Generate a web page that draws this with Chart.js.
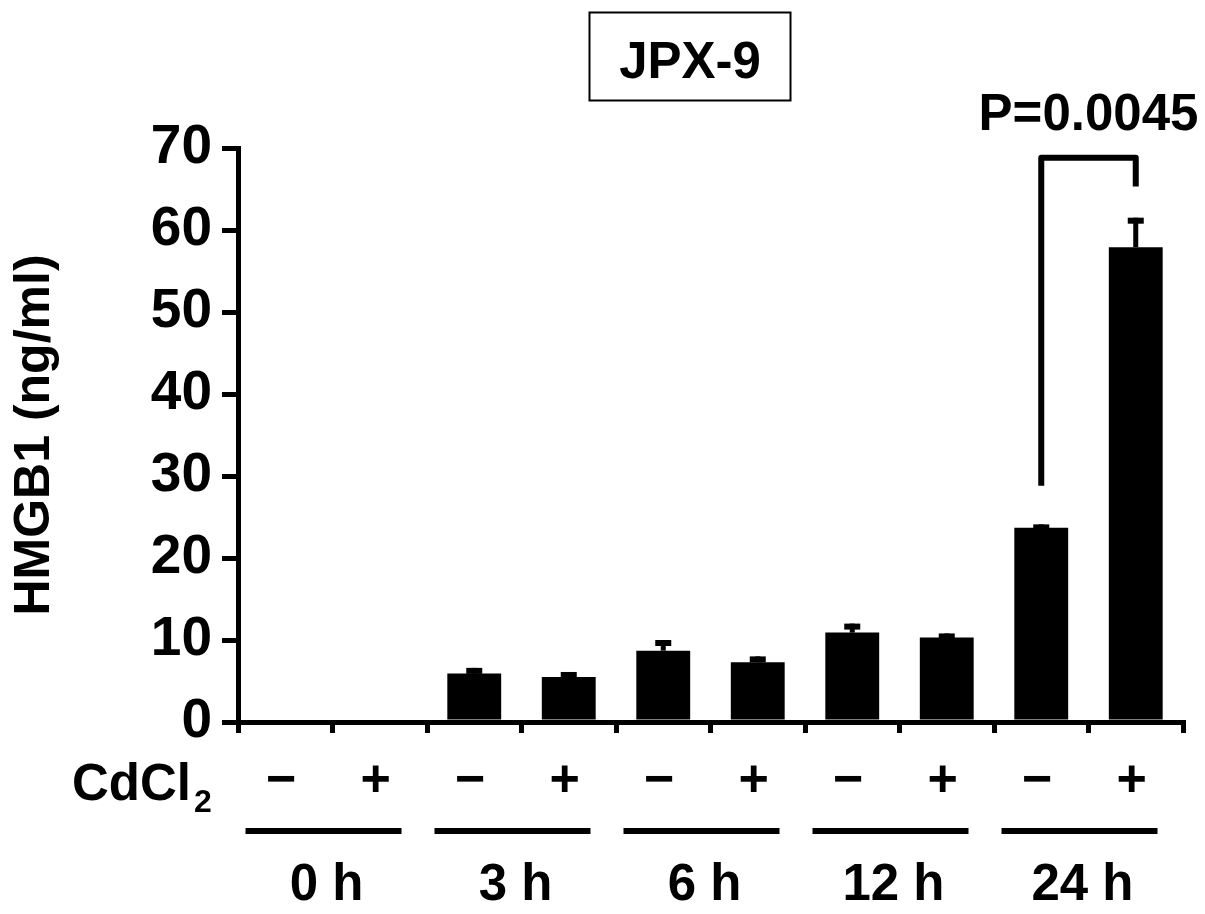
<!DOCTYPE html>
<html>
<head>
<meta charset="utf-8">
<script src="https://cdn.jsdelivr.net/npm/chart.js@4/dist/chart.umd.min.js"></script>
<style>
  html, body { margin: 0; padding: 0; background: #fff; }
  #wrap { width: 1205px; height: 914px; }
</style>
</head>
<body>
<div id="wrap"><canvas id="grafico" width="1205" height="914"></canvas></div>
<script>
// === DADOS ===
const timeGroups = ['0 h', '3 h', '6 h', '12 h', '24 h'];
const cdcl2Signs = ['\u2212', '+', '\u2212', '+', '\u2212', '+', '\u2212', '+', '\u2212', '+'];
const hmgb1Values = [0, 0, 5.9, 5.5, 8.7, 7.3, 10.9, 10.3, 23.7, 57.9];
const hmgb1Errors = [0, 0, 0.7, 0.6, 1.3, 0.7, 1.1, 0.5, 0.4, 3.6];
const yTickValues = [0, 10, 20, 30, 40, 50, 60, 70];
const chartTitle = 'JPX-9';
const yAxisTitle = 'HMGB1 (ng/ml)';
// colchete entre as barras de 24 h: [base perna esq., topo, base perna dir.]
const bracketBars = [8, 9];
const bracketLevels = [28.8, 68.8, 65.3];
const pValueText = 'P=0.0045';

const labels = cdcl2Signs.map((s, i) => timeGroups[Math.floor(i / 2)] + ' ' + s);
const FONT = '"Liberation Sans", Arial, sans-serif';

// === PLUGIN: barras de erro, colchete e textos extras ===
const extras = {
  id: 'extras',
  afterDatasetsDraw(chart) {
    const ctx = chart.ctx;
    const y = chart.scales.y;
    const bars = chart.getDatasetMeta(0).data;
    ctx.save();
    ctx.fillStyle = '#000';
    bars.forEach((bar, i) => {
      if (!hmgb1Errors[i]) return;
      const yTop = y.getPixelForValue(hmgb1Values[i] + hmgb1Errors[i]);
      const yBar = y.getPixelForValue(hmgb1Values[i]);
      ctx.fillRect(bar.x - 2.5, yTop, 5, yBar - yTop);
      ctx.fillRect(bar.x - 8, yTop, 16, 6);
    });

    // colchete
    const xa = bars[bracketBars[0]].x, xb = bars[bracketBars[1]].x;
    ctx.strokeStyle = '#000';
    ctx.lineWidth = 6;
    ctx.lineJoin = 'round';
    ctx.beginPath();
    ctx.moveTo(xa, y.getPixelForValue(bracketLevels[0]));
    ctx.lineTo(xa, y.getPixelForValue(bracketLevels[1]));
    ctx.lineTo(xb, y.getPixelForValue(bracketLevels[1]));
    ctx.lineTo(xb, y.getPixelForValue(bracketLevels[2]));
    ctx.stroke();

    ctx.font = 'bold 51px ' + FONT;
    ctx.textAlign = 'center';
    ctx.textBaseline = 'alphabetic';
    ctx.fillText(pValueText, (xa + xb) / 2, y.getPixelForValue(bracketLevels[1]) - 28);
    ctx.restore();
  },
  afterDraw(chart) {
    const ctx = chart.ctx;
    const x = chart.scales.x;
    ctx.save();
    ctx.fillStyle = '#000';
    ctx.strokeStyle = '#000';

    // titulo com caixa
    ctx.lineWidth = 2;
    ctx.strokeRect(589.5, 12.5, 201, 88);
    ctx.font = 'bold 51px ' + FONT;
    ctx.textAlign = 'center';
    ctx.textBaseline = 'alphabetic';
    ctx.fillText(chartTitle, 690, 78);

    // linha CdCl2
    ctx.textAlign = 'left';
    ctx.font = 'bold 51px ' + FONT;
    ctx.fillText('CdCl', 72, 800);
    const w = ctx.measureText('CdCl').width;
    ctx.font = 'bold 32px ' + FONT;
    ctx.fillText('2', 72 + w + 3, 812);

    ctx.textAlign = 'center';
    ctx.textBaseline = 'middle';
    ctx.font = 'bold 52px ' + FONT;
    cdcl2Signs.forEach((s, i) => {
      ctx.fillText(s, x.getPixelForValue(i) - 4, 782);
    });

    // grupos de tempo
    ctx.textBaseline = 'alphabetic';
    ctx.font = 'bold 51px ' + FONT;
    timeGroups.forEach((g, k) => {
      const mid = (x.getPixelForValue(2 * k) + x.getPixelForValue(2 * k + 1)) / 2;
      ctx.fillRect(mid - 87, 828, 156, 6);
      ctx.fillText(g, mid - 6, 900);
    });
    ctx.restore();
  }
};

// === GRAFICO ===
new Chart(document.getElementById('grafico').getContext('2d'), {
  type: 'bar',
  data: {
    labels: labels,
    datasets: [{
      label: 'HMGB1',
      data: hmgb1Values,
      backgroundColor: '#000',
      borderWidth: 0,
      categoryPercentage: 1,
      barPercentage: 0.57
    }]
  },
  options: {
    responsive: false,
    animation: false,
    layout: { padding: { top: 148, right: 22, bottom: 0, left: 0 } },
    plugins: {
      legend: { display: false },
      tooltip: { enabled: false }
    },
    scales: {
      x: {
        offset: true,
        grid: {
          offset: true,
          drawOnChartArea: false,
          drawTicks: true,
          tickLength: 11,
          lineWidth: 5,
          color: '#000'
        },
        border: { display: true, width: 5, color: '#000' },
        ticks: { display: false },
        afterFit(scale) { scale.height = 192; }
      },
      y: {
        min: 0,
        max: 70,
        afterBuildTicks(scale) {
          scale.ticks = yTickValues.map(v => ({ value: v }));
        },
        grid: {
          drawOnChartArea: false,
          drawTicks: true,
          tickLength: 16,
          lineWidth: 5,
          color: '#000'
        },
        border: { display: true, width: 5, color: '#000' },
        ticks: {
          color: '#000',
          padding: 10,
          font: { family: FONT, size: 55, weight: 'bold' }
        },
        title: {
          display: true,
          text: yAxisTitle,
          color: '#000',
          padding: { top: 5, bottom: 0 },
          font: { family: FONT, size: 50, weight: 'bold' }
        },
        afterFit(scale) { scale.width = 238; }
      }
    }
  },
  plugins: [extras]
});
</script>
</body>
</html>
